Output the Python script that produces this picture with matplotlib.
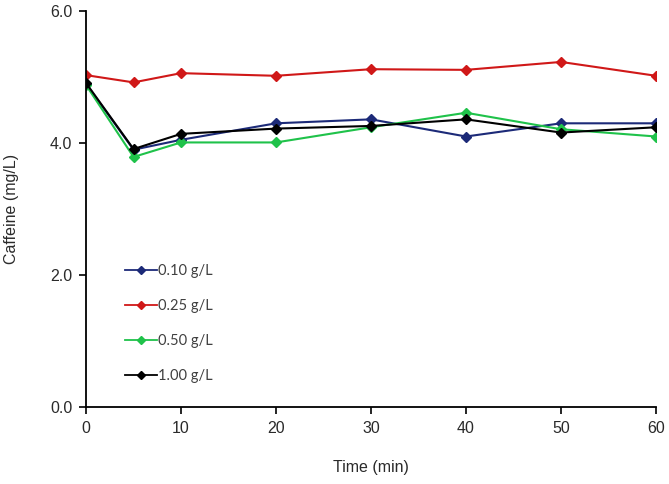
import matplotlib
matplotlib.use("Agg")
import matplotlib.pyplot as plt

time_min = [0, 5, 10, 20, 30, 40, 50, 60]
c_010 = [4.90, 3.90, 4.05, 4.30, 4.36, 4.10, 4.30, 4.30]
c_025 = [5.03, 4.92, 5.06, 5.02, 5.12, 5.11, 5.23, 5.02]
c_050 = [4.88, 3.79, 4.01, 4.01, 4.24, 4.46, 4.21, 4.10]
c_100 = [4.91, 3.91, 4.14, 4.22, 4.26, 4.36, 4.16, 4.24]
labels = ["0.10 g/L", "0.25 g/L", "0.50 g/L", "1.00 g/L"]
colors = ["#1c2a78", "#d01818", "#1fc24a", "#000000"]
x_ticks = [0, 10, 20, 30, 40, 50, 60]
y_ticks = [0.0, 2.0, 4.0, 6.0]

plt.rcParams['font.family'] = ['Liberation Sans', 'DejaVu Sans']

fig = plt.figure(figsize=(6.69, 4.84), dpi=100)
ax = fig.add_axes([0.1286, 0.159, 0.852, 0.818])

for ys, lab, col in zip([c_010, c_025, c_050, c_100], labels, colors):
    ax.plot(time_min, ys, color=col, lw=1.5, marker='D', ms=5,
            markeredgecolor=col, markerfacecolor=col, label=lab)

ax.set_xlim(0, 60)
ax.set_ylim(0, 6)
ax.set_xticks(x_ticks)
ax.set_yticks(y_ticks)
ax.set_yticklabels([f"{v:.1f}" for v in y_ticks])
ax.spines['top'].set_visible(False)
ax.spines['right'].set_visible(False)
for s in ['left', 'bottom']:
    ax.spines[s].set_linewidth(1.3)
ax.tick_params(direction='out', length=5, width=1.2, labelsize=11.5,
               colors='#000000', labelcolor='#2a2a2a', pad=5)
ax.set_xlabel("Time (min)", fontsize=11.5, color='#2a2a2a', labelpad=17)
ax.set_ylabel("Caffeine (mg/L)", fontsize=11.5, color='#2a2a2a', labelpad=22)

leg = ax.legend(loc='upper left', bbox_to_anchor=(0.045, 0.395), frameon=False,
                handlelength=2.2, handletextpad=0.1, labelspacing=1.45,
                prop={'family': ['Lato', 'DejaVu Sans'], 'size': 10.5})
for t in leg.get_texts():
    t.set_color('#404040')
for h in leg.legend_handles:
    h.set_markersize(4)
    h.set_linewidth(1.3)

fig.savefig("out.png", dpi=100)
